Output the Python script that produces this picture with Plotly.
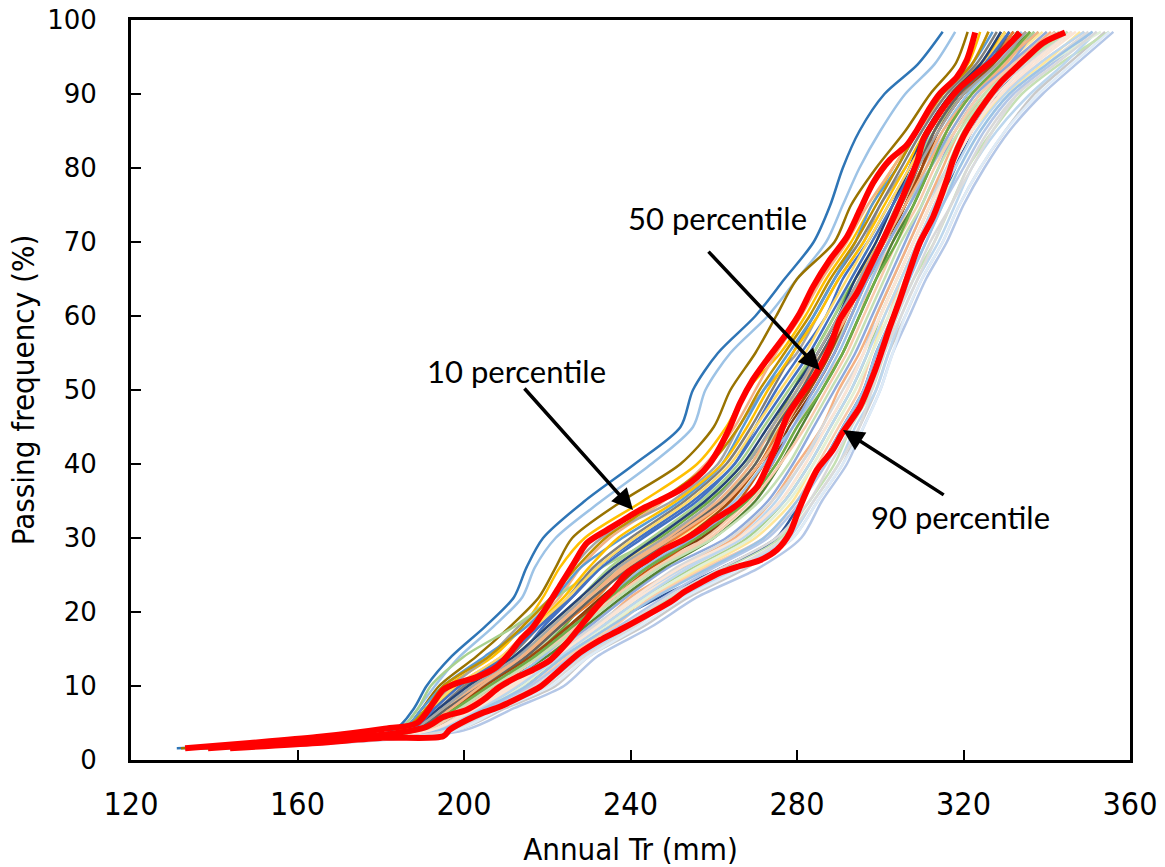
import plotly.graph_objects as go

# Passing-frequency levels (%) at which the ensemble runs are sampled
levels = [1.6, 4, 7, 10, 14, 18, 22, 26, 30, 35, 40, 45, 50, 55, 60, 65, 70, 75, 80, 85, 90, 94, 98.4]

# Ensemble members: annual Tr (mm) at each level
run_01 = [131, 183, 188, 191, 197, 205, 212, 215, 219, 229, 241, 252, 255, 261, 270, 277, 284, 288, 291, 295, 301, 309, 315]
run_02 = [134, 184, 189, 193, 199, 207, 214, 217, 222, 233, 245, 255, 258, 264, 273, 280, 287, 291, 295, 300, 306, 313, 318]
run_03 = [132, 185, 190, 194, 203, 211, 218, 222, 226, 238, 252, 260, 264, 270, 275, 280, 289, 293, 299, 306, 312, 318, 321]
run_04 = [135, 186, 191, 196, 207, 214, 219, 223, 229, 243, 256, 263, 268, 276, 282, 287, 293, 298, 303, 309, 315, 321, 324]
run_05 = [136, 187, 193, 198, 209, 216, 223, 228, 235, 248, 258, 265, 270, 275, 281, 286, 292, 297, 303, 309, 316, 322, 326]
run_06 = [137, 186, 192, 197, 206, 213, 221, 226, 233, 250, 261, 266, 272, 280, 285, 290, 296, 300, 306, 311, 317, 324, 329]
run_07 = [138, 189, 195, 201, 213, 219, 226, 232, 242, 255, 265, 270, 275, 281, 287, 291, 297, 302, 307, 311, 318, 325, 330]
run_08 = [139, 190, 199, 205, 216, 224, 230, 237, 247, 259, 268, 274, 279, 284, 289, 294, 300, 304, 309, 313, 319, 327, 333]
run_09 = [133, 184, 189, 192, 200, 212, 222, 233, 246, 258, 267, 275, 280, 286, 291, 297, 302, 306, 312, 316, 322, 330, 338]
run_10 = [140, 191, 201, 210, 219, 228, 236, 245, 258, 268, 275, 280, 285, 291, 295, 298, 303, 307, 312, 317, 323, 331, 340]
run_11 = [141, 193, 203, 213, 222, 231, 241, 253, 266, 275, 281, 287, 292, 296, 299, 303, 307, 311, 316, 321, 328, 336, 346]
run_12 = [144, 198, 210, 222, 230, 243, 254, 268, 279, 285, 291, 295, 299, 302, 306, 310, 315, 319, 324, 330, 337, 345, 354]
run_13 = [146, 200, 212, 224, 232, 245, 256, 271, 281, 286, 292, 296, 300, 303, 307, 311, 316, 320, 325, 331, 339, 347, 356]
run_14 = [143, 197, 207, 218, 226, 238, 250, 263, 276, 283, 289, 293, 298, 301, 304, 308, 313, 317, 321, 327, 334, 343, 355]
run_15 = [138, 190, 198, 206, 218, 226, 236, 245, 256, 266, 272, 277, 283, 288, 291, 296, 301, 305, 310, 314, 320, 327, 335]
run_16 = [142, 195, 205, 214, 224, 234, 247, 262, 275, 281, 286, 291, 296, 299, 303, 306, 310, 314, 318, 322, 328, 334, 342]
run_17 = [137, 188, 196, 203, 215, 222, 231, 240, 252, 264, 271, 276, 281, 287, 292, 296, 301, 306, 311, 317, 323, 330, 339]
run_18 = [136, 187, 194, 200, 211, 218, 225, 231, 240, 253, 263, 269, 274, 279, 284, 289, 295, 300, 305, 310, 316, 323, 328]
run_19 = [140, 192, 202, 211, 221, 230, 239, 249, 263, 273, 279, 284, 289, 294, 298, 302, 306, 310, 314, 318, 324, 331, 337]
run_20 = [141, 194, 206, 216, 225, 236, 245, 258, 272, 280, 285, 290, 295, 298, 302, 305, 309, 313, 317, 322, 329, 338, 349]
run_21 = [135, 188, 197, 204, 214, 221, 229, 236, 248, 262, 270, 275, 280, 285, 290, 295, 299, 303, 308, 312, 318, 325, 331]
run_22 = [139, 191, 200, 208, 220, 229, 238, 248, 260, 270, 276, 281, 286, 291, 295, 299, 303, 308, 312, 316, 321, 328, 336]
run_23 = [142, 196, 208, 219, 228, 240, 252, 266, 278, 284, 290, 294, 299, 302, 305, 309, 314, 318, 322, 328, 336, 344, 352]
run_24 = [137, 189, 198, 207, 217, 225, 233, 242, 257, 267, 274, 278, 284, 289, 293, 297, 302, 306, 310, 313, 319, 326, 332]
run_25 = [140, 192, 204, 214, 223, 233, 243, 255, 268, 277, 283, 288, 293, 297, 300, 304, 308, 312, 316, 320, 326, 334, 344]
run_26 = [134, 185, 190, 195, 205, 215, 222, 228, 238, 252, 262, 267, 272, 278, 284, 289, 294, 298, 304, 309, 315, 322, 327]
run_27 = [139, 193, 204, 212, 222, 232, 240, 252, 265, 274, 280, 286, 290, 295, 299, 303, 307, 311, 315, 319, 325, 332, 341]
run_28 = [143, 197, 209, 220, 229, 241, 251, 265, 277, 284, 290, 295, 298, 301, 305, 309, 313, 317, 322, 327, 333, 340, 350]
run_29 = [138, 190, 200, 209, 219, 227, 235, 243, 254, 265, 272, 279, 285, 290, 294, 298, 302, 307, 311, 315, 321, 328, 334]
run_30 = [141, 195, 206, 215, 224, 235, 244, 257, 270, 279, 284, 289, 294, 298, 301, 305, 309, 313, 317, 322, 330, 339, 348]
run_31 = [136, 188, 196, 204, 216, 223, 231, 238, 250, 262, 269, 276, 282, 288, 293, 297, 302, 307, 312, 318, 325, 333, 343]
run_32 = [137, 189, 197, 205, 215, 223, 232, 239, 251, 263, 271, 276, 282, 287, 291, 295, 300, 305, 309, 313, 319, 326, 332]
run_33 = [133, 185, 191, 195, 206, 214, 221, 227, 234, 247, 259, 266, 271, 277, 283, 288, 294, 299, 304, 309, 315, 322, 326]
run_34 = [135, 186, 192, 199, 210, 217, 224, 230, 237, 251, 262, 268, 273, 279, 285, 290, 296, 301, 306, 311, 317, 324, 330]
run_35 = [137, 188, 195, 202, 212, 220, 228, 235, 245, 257, 266, 272, 278, 284, 289, 293, 298, 303, 308, 313, 320, 328, 337]
run_36 = [138, 189, 196, 203, 214, 222, 230, 238, 249, 261, 269, 274, 280, 286, 291, 295, 300, 305, 310, 315, 322, 329, 338]
run_37 = [139, 191, 199, 206, 217, 226, 234, 244, 255, 267, 274, 279, 284, 289, 293, 297, 302, 307, 312, 317, 323, 331, 340]
run_38 = [140, 193, 203, 211, 221, 231, 241, 251, 264, 274, 281, 286, 291, 296, 300, 304, 308, 312, 316, 321, 327, 335, 345]
run_39 = [142, 195, 206, 216, 226, 237, 248, 260, 273, 281, 287, 292, 297, 300, 304, 307, 311, 315, 320, 325, 332, 341, 351]
run_40 = [139, 192, 202, 211, 222, 232, 242, 254, 267, 276, 282, 287, 292, 296, 300, 304, 308, 312, 317, 322, 329, 337, 347]
run_41 = [136, 187, 194, 201, 212, 220, 228, 236, 246, 258, 267, 273, 279, 285, 290, 294, 299, 303, 307, 311, 317, 324, 329]
run_42 = [138, 190, 198, 205, 216, 225, 234, 242, 253, 264, 271, 277, 283, 288, 292, 296, 301, 306, 310, 314, 320, 327, 333]
run_43 = [141, 194, 205, 214, 223, 234, 244, 256, 269, 278, 284, 289, 294, 298, 302, 306, 310, 314, 319, 324, 331, 340, 353]
run_44 = [137, 188, 196, 204, 215, 223, 231, 240, 250, 262, 270, 275, 281, 286, 291, 296, 300, 305, 309, 313, 319, 326, 331]
run_45 = [139, 191, 200, 208, 218, 227, 236, 246, 259, 269, 276, 282, 287, 292, 296, 300, 304, 309, 313, 318, 324, 332, 342]
run_46 = [140, 193, 204, 213, 223, 233, 243, 254, 267, 277, 283, 288, 293, 297, 301, 305, 309, 313, 318, 323, 330, 338, 349]
run_47 = [138, 190, 199, 207, 218, 228, 237, 247, 260, 271, 278, 283, 288, 293, 297, 301, 305, 310, 314, 319, 326, 334, 345]
run_48 = [134, 186, 192, 198, 209, 217, 225, 232, 241, 254, 264, 270, 276, 282, 287, 292, 297, 302, 307, 312, 318, 325, 330]
run_49 = [136, 187, 195, 202, 213, 221, 229, 237, 248, 260, 268, 274, 280, 285, 290, 295, 300, 304, 309, 314, 320, 328, 335]
run_50 = [141, 194, 205, 215, 224, 235, 246, 259, 272, 280, 286, 291, 296, 299, 303, 307, 311, 315, 319, 324, 331, 340, 351]
run_51 = [137, 189, 197, 204, 214, 222, 230, 239, 250, 263, 271, 277, 282, 287, 292, 296, 301, 306, 311, 316, 322, 330, 336]
run_52 = [143, 198, 209, 221, 230, 242, 253, 267, 279, 285, 291, 296, 300, 303, 306, 310, 315, 319, 324, 330, 338, 346, 355]
run_53 = [135, 187, 193, 199, 210, 218, 226, 233, 243, 256, 265, 271, 277, 283, 288, 293, 298, 303, 308, 312, 318, 325, 331]
run_54 = [140, 192, 203, 212, 222, 232, 241, 252, 266, 276, 282, 287, 292, 296, 300, 304, 308, 312, 317, 322, 328, 336, 346]
run_55 = [138, 189, 198, 206, 217, 226, 235, 244, 256, 268, 275, 280, 286, 291, 295, 299, 304, 308, 312, 316, 322, 329, 336]
run_56 = [142, 196, 207, 217, 227, 238, 249, 262, 275, 283, 288, 293, 297, 301, 304, 308, 312, 317, 321, 326, 333, 342, 352]

runs = [run_01, run_02, run_03, run_04, run_05, run_06, run_07, run_08, run_09, run_10,
        run_11, run_12, run_13, run_14, run_15, run_16, run_17, run_18, run_19, run_20,
        run_21, run_22, run_23, run_24, run_25, run_26, run_27, run_28, run_29, run_30,
        run_31, run_32, run_33, run_34, run_35, run_36, run_37, run_38, run_39, run_40,
        run_41, run_42, run_43, run_44, run_45, run_46, run_47, run_48, run_49, run_50,
        run_51, run_52, run_53, run_54, run_55, run_56]

run_colors = ["#2E75B6", "#9DC3E6", "#997300", "#FFC000", "#F4B183", "#A5A5A5", "#4472C4", "#70AD47",
              "#A9D18E", "#F8CBAD", "#BDD7EE", "#C9C9C9", "#B4C7E7", "#C5E0B4", "#C55A11", "#2F5597",
              "#FFE699", "#7F7F7F", "#8FAADC", "#F8CBAD", "#FFD966", "#548235", "#BDD7EE", "#843C0C",
              "#A9D18E", "#5B9BD5", "#F4B183", "#DBDBDB", "#9DC3E6", "#FFE699", "#C5E0B4", "#ED7D31",
              "#BF9000", "#FFC000", "#A9D18E", "#F4B183", "#8FAADC", "#D9D9D9", "#B4C7E7", "#FBE5D6",
              "#264478", "#9E480E", "#E2F0D9", "#636363", "#F8CBAD", "#BDD7EE", "#C5E0B4", "#FFD966",
              "#A5A5A5", "#9DC3E6", "#F4B183", "#DEEBF7", "#4472C4", "#FBE5D6", "#70AD47", "#D9D9D9"]

# Percentile curves
p10_x = [133.0, 148.6, 164.7, 180.5, 188.7, 192.6, 195.0, 198.3, 203.1, 207.9, 211.1, 213.5, 216.6, 219.9,
         223.1, 226.2, 229.5, 234.4, 238.2, 242.3, 247.1, 251.9, 256.0, 259.1, 261.5, 263.9, 266.3, 269.4,
         272.8, 277.6, 280.7, 283.8, 287.9, 292.0, 295.1, 298.3, 302.3, 306.4, 308.8, 312.0, 314.4, 318.4,
         320.8, 322.8]
p10_y = [1.6, 2.3, 3.1, 4.2, 5.0, 7.7, 9.5, 10.4, 11.2, 12.6, 14.5, 16.2, 18.0, 20.7,
         23.6, 26.4, 29.3, 31.1, 32.4, 33.8, 35.1, 36.5, 38.2, 40.1, 42.3, 45.0, 48.2, 51.4,
         54.1, 57.7, 60.4, 63.9, 67.6, 70.7, 74.3, 78.0, 81.1, 83.1, 85.1, 88.2, 90.1, 92.3,
         94.6, 98.3]

p50_x = [138.5, 148.6, 164.7, 180.5, 191.1, 195.0, 200.7, 204.6, 208.6, 212.7, 216.6, 220.7, 224.7, 228.6,
         232.7, 235.8, 239.2, 244.0, 247.8, 252.6, 256.7, 259.8, 263.9, 267.0, 270.4, 272.8, 275.2, 277.6,
         280.7, 284.3, 287.9, 290.3, 294.4, 297.5, 300.7, 304.0, 307.1, 309.0, 310.3, 312.7, 316.0, 319.2,
         323.2, 327.1, 330.4, 333.6]
p50_y = [1.6, 2.0, 2.7, 3.4, 4.5, 5.8, 6.8, 8.1, 9.9, 11.2, 12.2, 13.5, 15.8, 18.5,
         21.2, 23.0, 25.3, 27.0, 28.4, 29.7, 31.1, 32.4, 33.8, 35.1, 36.9, 39.6, 42.8, 46.4,
         49.1, 52.0, 55.8, 59.5, 63.1, 66.6, 70.3, 74.3, 78.4, 81.1, 83.8, 86.1, 88.8, 90.9,
         92.8, 94.6, 96.4, 98.3]

p90_x = [143.8, 164.7, 180.5, 195.0, 196.6, 200.7, 204.6, 208.6, 213.5, 218.3, 223.1, 227.9, 232.7, 237.5,
         250.2, 252.6, 256.7, 261.5, 265.6, 271.1, 275.2, 278.3, 280.7, 284.8, 288.6, 291.0, 295.1, 298.5,
         300.5, 302.3, 304.7, 307.1, 309.5, 312.7, 316.0, 317.5, 319.9, 322.3, 325.6, 328.8, 331.9, 335.3,
         339.1, 344.4]
p90_y = [1.6, 2.3, 3.0, 3.2, 4.1, 5.4, 6.4, 7.2, 8.5, 9.9, 12.2, 14.5, 16.2, 17.6,
         21.6, 22.6, 23.9, 25.3, 26.1, 27.0, 28.4, 30.7, 34.2, 39.2, 41.9, 44.3, 47.7, 52.3,
         55.5, 58.5, 62.2, 66.2, 69.9, 73.4, 78.4, 81.1, 84.2, 86.5, 89.2, 91.5, 93.2, 95.0,
         96.9, 98.3]

x_ticks = [120, 160, 200, 240, 280, 320, 360]
y_ticks = [0, 10, 20, 30, 40, 50, 60, 70, 80, 90, 100]

fig = go.Figure()
for run, col in zip(runs, run_colors):
    fig.add_trace(go.Scatter(x=run, y=levels, mode="lines",
                             line=dict(color=col, width=2.5, shape="spline", smoothing=0.8),
                             showlegend=False, hoverinfo="skip"))

for px_, py_ in [(p10_x, p10_y), (p50_x, p50_y), (p90_x, p90_y)]:
    fig.add_trace(go.Scatter(x=px_, y=py_, mode="lines",
                             line=dict(color="#FF0000", width=6, shape="spline", smoothing=0.8),
                             showlegend=False, hoverinfo="skip"))

ann_font = dict(family="Lato, Open Sans, sans-serif", size=31, color="black")
labels = [("10 percentile", 212.5, 52.6, 214.2, 50.4, 240.6, 33.8),
          ("50 percentile", 260.8, 73.2, 258.4, 68.9, 285.5, 52.7),
          ("90 percentile", 319.2, 32.8, 315.6, 35.7, 291.05, 44.6)]
for txt, tx, ty, ax_, ay_, hx, hy in labels:
    fig.add_annotation(x=tx, y=ty, text=txt, showarrow=False, font=ann_font,
                       xanchor="center", yanchor="middle")
    fig.add_annotation(x=hx, y=hy, ax=ax_, ay=ay_, axref="x", ayref="y", xref="x", yref="y",
                       text="", showarrow=True, arrowhead=2, arrowsize=1.2, arrowwidth=3.5,
                       arrowcolor="black", standoff=0, startstandoff=0)

narrow = "Liberation Sans Narrow, DejaVu Sans Condensed, Lato, sans-serif"
fig.update_layout(
    width=1165, height=867,
    margin=dict(l=131, r=35, t=20, b=107, autoexpand=False),
    paper_bgcolor="white", plot_bgcolor="white",
    xaxis=dict(range=[120, 360], tickvals=x_ticks, ticks="inside", ticklen=10, tickwidth=2,
               tickcolor="black", showline=True, linewidth=3, linecolor="black", mirror=True,
               showgrid=False, zeroline=False, automargin=False, ticklabelstandoff=14,
               tickfont=dict(family=narrow, size=32, color="black"),
               title=dict(text="Annual Tr (mm)", font=dict(family=narrow, size=31, color="black"),
                          standoff=20)),
    yaxis=dict(range=[0, 100], tickvals=y_ticks, ticks="inside", ticklen=10, tickwidth=2,
               tickcolor="black", showline=True, linewidth=3, linecolor="black", mirror=True,
               showgrid=False, zeroline=False, automargin=False, ticklabelstandoff=26,
               tickfont=dict(family="DejaVu Sans, Verdana, sans-serif", size=26, color="black"),
               title=dict(text="Passing frequency (%)", font=dict(family=narrow, size=31, color="black"),
                          standoff=4)),
)

fig.write_html("out.html")
